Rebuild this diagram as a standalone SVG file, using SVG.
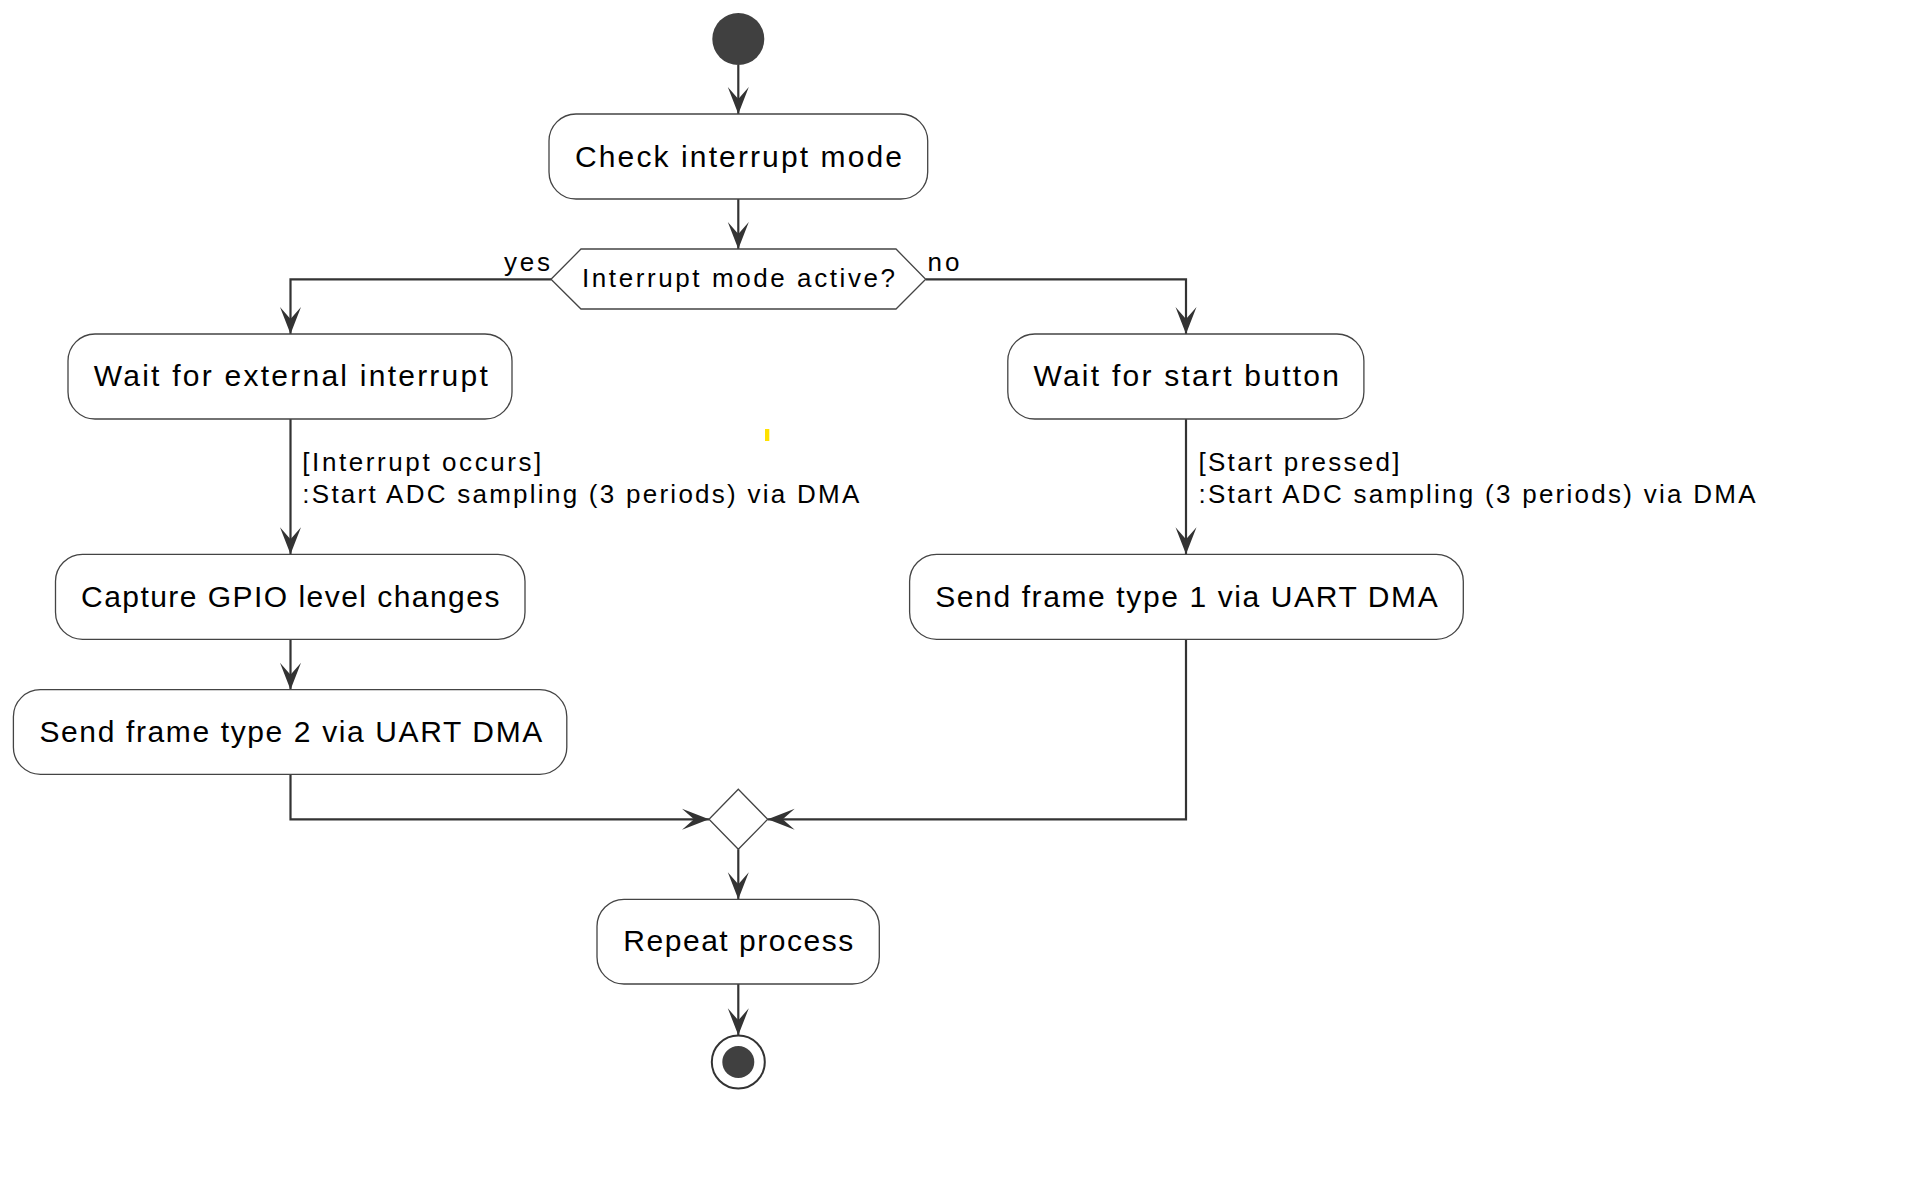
<svg xmlns="http://www.w3.org/2000/svg" width="1906" height="1204" viewBox="0 0 1906 1204">
<style>
  .bg { fill: #ffffff; }
  .act { fill: #ffffff; stroke: #444444; stroke-width: 1.3; }
  .t30 { font-family: "Liberation Sans", Arial, sans-serif; font-size: 30px; fill: #000000; }
  .t26 { font-family: "Liberation Sans", Arial, sans-serif; font-size: 26px; fill: #000000; }
  .t25 { font-family: "Liberation Sans", Arial, sans-serif; font-size: 26px; fill: #000000; }
  .edge { fill: none; stroke: #333333; stroke-width: 2.2; }
  .head { fill: #333333; stroke: none; }
  .dot { fill: #404040; }
</style>
<rect class="bg" x="0" y="0" width="1906" height="1204"/>

<g id="connectors">
  <path d="M 738.3,65 V 114" class="edge"/>
  <polygon class="head" points="738.3,114 727.8,87 738.3,99 748.8,87"/>
  <path d="M 738.3,199 V 249" class="edge"/>
  <polygon class="head" points="738.3,249 727.8,222 738.3,234 748.8,222"/>
  <path d="M 551,279.3 H 290.5 V 334" class="edge"/>
  <polygon class="head" points="290.5,334 280,307 290.5,319 301,307"/>
  <path d="M 925.7,279.3 H 1186 V 334" class="edge"/>
  <polygon class="head" points="1186,334 1175.5,307 1186,319 1196.5,307"/>
  <path d="M 290.5,419 V 554.3" class="edge"/>
  <polygon class="head" points="290.5,554.3 280,527.3 290.5,539.3 301,527.3"/>
  <path d="M 1186,419 V 554.3" class="edge"/>
  <polygon class="head" points="1186,554.3 1175.5,527.3 1186,539.3 1196.5,527.3"/>
  <path d="M 290.5,639.3 V 689.7" class="edge"/>
  <polygon class="head" points="290.5,689.7 280,662.7 290.5,674.7 301,662.7"/>
  <path d="M 290.5,774.3 V 819.3 H 709" class="edge"/>
  <polygon class="head" points="709,819.3 682,808.8 694,819.3 682,829.8"/>
  <path d="M 1186,639.3 V 819.3 H 767.7" class="edge"/>
  <polygon class="head" points="767.7,819.3 794.7,808.8 782.7,819.3 794.7,829.8"/>
  <path d="M 738.3,849.3 V 899.3" class="edge"/>
  <polygon class="head" points="738.3,899.3 727.8,872.3 738.3,884.3 748.8,872.3"/>
  <path d="M 738.3,984 V 1035.3" class="edge"/>
  <polygon class="head" points="738.3,1035.3 727.8,1008.3 738.3,1020.3 748.8,1008.3"/>
  <text class="t25" x="504" y="271" textLength="46" lengthAdjust="spacing">yes</text>
  <text class="t25" x="927.5" y="271" textLength="32" lengthAdjust="spacing">no</text>
  <text class="t26" x="302.3" y="471" textLength="239" lengthAdjust="spacing">[Interrupt occurs]</text>
  <text class="t26" x="302.3" y="503" textLength="557" lengthAdjust="spacing">:Start ADC sampling (3 periods) via DMA</text>
  <text class="t26" x="1198.5" y="471" textLength="201" lengthAdjust="spacing">[Start pressed]</text>
  <text class="t26" x="1198.5" y="503" textLength="557" lengthAdjust="spacing">:Start ADC sampling (3 periods) via DMA</text>
</g>

<g id="start">
  <circle class="dot" cx="738.3" cy="39" r="26"/>
</g>

<g id="check">
  <rect class="act" x="549" y="114" width="378.7" height="85" rx="27" ry="27"/>
  <text class="t30" x="575" y="166.7" textLength="327" lengthAdjust="spacing">Check interrupt mode</text>
</g>

<g id="decision">
  <polygon class="act" points="551,279.3 581,249 896,249 925.7,279.3 896,309 581,309"/>
  <text class="t25" x="582" y="287.3" textLength="313" lengthAdjust="spacing">Interrupt mode active?</text>
</g>

<g id="wait-interrupt">
  <rect class="act" x="68" y="334" width="444" height="85" rx="27" ry="27"/>
  <text class="t30" x="93.8" y="386" textLength="394" lengthAdjust="spacing">Wait for external interrupt</text>
</g>

<g id="wait-button">
  <rect class="act" x="1007.8" y="334" width="356.1" height="85" rx="27" ry="27"/>
  <text class="t30" x="1033.5" y="386" textLength="305.4" lengthAdjust="spacing">Wait for start button</text>
</g>

<g id="capture">
  <rect class="act" x="55.5" y="554.3" width="469.5" height="85" rx="27" ry="27"/>
  <text class="t30" x="81" y="606.7" textLength="418.4" lengthAdjust="spacing">Capture GPIO level changes</text>
</g>

<g id="send1">
  <rect class="act" x="909.6" y="554.3" width="553.7" height="85" rx="27" ry="27"/>
  <text class="t30" x="935.2" y="606.7" textLength="502.5" lengthAdjust="spacing">Send frame type 1 via UART DMA</text>
</g>

<g id="send2">
  <rect class="act" x="13.4" y="689.7" width="553.4" height="84.6" rx="27" ry="27"/>
  <text class="t30" x="39.4" y="741.7" textLength="502.9" lengthAdjust="spacing">Send frame type 2 via UART DMA</text>
</g>

<g id="merge">
  <polygon class="act" points="738.3,789.3 767.7,819.3 738.3,849.3 709,819.3"/>
</g>

<g id="repeat">
  <rect class="act" x="597" y="899.3" width="282.3" height="84.7" rx="27" ry="27"/>
  <text class="t30" x="623.3" y="951" textLength="230" lengthAdjust="spacing">Repeat process</text>
</g>

<g id="end">
  <circle cx="738.3" cy="1062" r="26.5" fill="#ffffff" stroke="#333333" stroke-width="2"/>
  <circle class="dot" cx="738.3" cy="1062" r="16"/>
</g>

<rect x="765" y="429" width="4.3" height="12" fill="#ffe100"/>
</svg>
